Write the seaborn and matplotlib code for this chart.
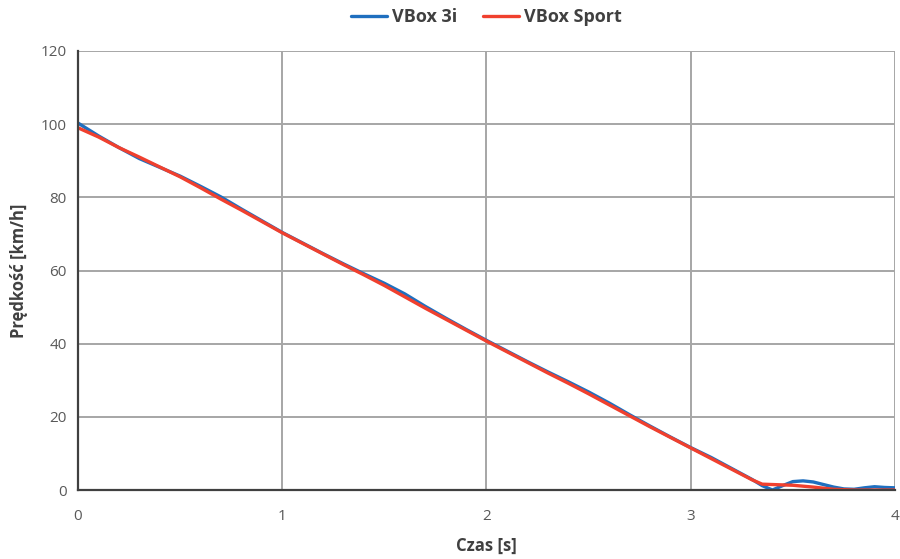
import numpy as np
import pandas as pd
import matplotlib
matplotlib.use("Agg")
import matplotlib.pyplot as plt
import seaborn as sns

# VBox 3i speed trace [km/h] vs time [s]
t_3i = [0.0, 0.1, 0.2, 0.3, 0.4, 0.5, 0.6, 0.7, 0.8, 0.9, 1.0, 1.1, 1.2, 1.3,
        1.4, 1.5, 1.6, 1.7, 1.8, 1.9, 2.0, 2.1, 2.2, 2.3, 2.4, 2.5, 2.6, 2.7,
        2.8, 2.9, 3.0, 3.1, 3.2, 3.3, 3.35, 3.4, 3.45, 3.5, 3.55, 3.6, 3.65,
        3.7, 3.75, 3.8, 3.85, 3.9, 3.95, 4.0]
v_3i = [100.3, 96.8, 93.6, 90.6, 88.2, 85.8, 83.0, 80.1, 76.8, 73.6, 70.4,
        67.5, 64.6, 61.8, 59.1, 56.5, 53.6, 50.2, 47.0, 43.9, 40.9, 38.0,
        35.1, 32.3, 29.6, 26.8, 23.8, 20.6, 17.5, 14.5, 11.6, 8.9, 5.9, 2.9,
        1.2, 0.0, 1.2, 2.3, 2.5, 2.2, 1.5, 0.8, 0.3, 0.2, 0.6, 0.9, 0.7, 0.6]

# VBox Sport speed trace [km/h] vs time [s]
t_sport = [0.0, 0.1, 0.2, 0.3, 0.4, 0.5, 0.6, 0.7, 0.8, 0.9, 1.0, 1.1, 1.2,
           1.3, 1.4, 1.5, 1.6, 1.7, 1.8, 1.9, 2.0, 2.1, 2.2, 2.3, 2.4, 2.5,
           2.6, 2.7, 2.8, 2.9, 3.0, 3.1, 3.2, 3.3, 3.35, 3.4, 3.5, 3.6, 3.7,
           3.8, 4.0]
v_sport = [99.0, 96.5, 93.6, 91.0, 88.3, 85.6, 82.6, 79.5, 76.5, 73.4, 70.3,
           67.4, 64.5, 61.6, 58.8, 55.9, 52.8, 49.7, 46.7, 43.7, 40.7, 37.8,
           34.9, 32.0, 29.2, 26.3, 23.3, 20.3, 17.3, 14.4, 11.5, 8.6, 5.7,
           2.8, 1.6, 1.5, 1.3, 0.8, 0.2, 0.0, 0.0]

series_names = ["VBox 3i", "VBox Sport"]
series_colors = ["#1f6fbf", "#f0402e"]

x_ticks = [0, 1, 2, 3, 4]
y_ticks = [0, 20, 40, 60, 80, 100, 120]

df = pd.concat([
    pd.DataFrame({"t": t_3i, "v": v_3i, "src": series_names[0]}),
    pd.DataFrame({"t": t_sport, "v": v_sport, "src": series_names[1]}),
], ignore_index=True)

sns.set_theme(style="white")
plt.rcParams["font.family"] = ["Open Sans", "DejaVu Sans"]

fig = plt.figure(figsize=(9, 5.59), dpi=100)
ax = fig.add_axes([0.0867, 0.1234, 0.9077, 0.7854])

sns.lineplot(data=df, x="t", y="v", hue="src", hue_order=series_names,
             palette=series_colors, linewidth=2.4, ax=ax, estimator=None,
             sort=False)

ax.set_xlim(0, 4)
ax.set_ylim(0, 120)
ax.set_xticks(x_ticks)
ax.set_yticks(y_ticks)
ax.grid(True, color="#a6a6a6", linewidth=1.4)
ax.set_axisbelow(True)

for side in ("top", "right"):
    ax.spines[side].set_visible(False)
for side in ("left", "bottom"):
    ax.spines[side].set_color("#404040")
    ax.spines[side].set_linewidth(1.6)

ax.tick_params(axis="both", length=0, labelsize=11, labelcolor="#595959")
ax.tick_params(axis="x", pad=14)
ax.tick_params(axis="y", pad=8)
ax.set_xlabel("Czas [s]", fontsize=12, fontweight="bold", color="#404040",
              labelpad=9)
ax.set_ylabel("Prędkość [km/h]", fontsize=12, fontweight="bold",
              color="#404040", labelpad=9)

handles, labels = ax.get_legend_handles_labels()
ax.legend(handles, labels, loc="upper center", bbox_to_anchor=(0.5, 1.135),
          ncol=2, frameon=False, handlelength=2.0,
          handletextpad=0.3, columnspacing=1.4,
          prop={"weight": "bold", "size": 13})
for txt in ax.get_legend().get_texts():
    txt.set_color("#404040")

fig.savefig("out.png", dpi=100)
